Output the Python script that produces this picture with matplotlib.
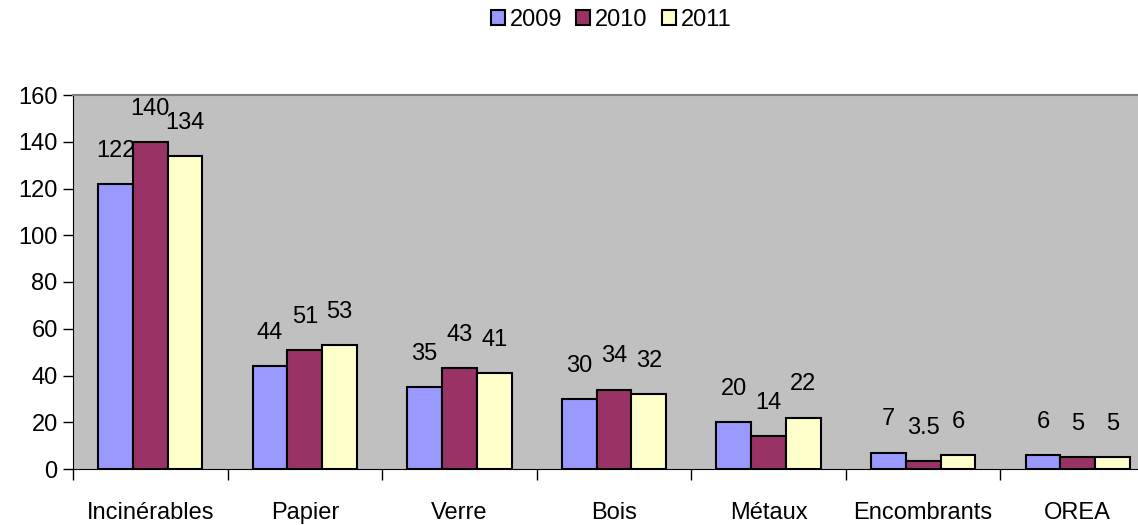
import numpy as np
import matplotlib.pyplot as plt
from matplotlib import font_manager

names = {f.name for f in font_manager.fontManager.ttflist}
if "Liberation Sans Narrow" in names:
    plt.rcParams['font.family'] = ['Liberation Sans Narrow', 'DejaVu Sans']
    fs = 19
else:
    plt.rcParams['font.family'] = ['Liberation Sans', 'DejaVu Sans']
    fs = 17

categories = ["Incinérables", "Papier", "Verre", "Bois", "Métaux", "Encombrants", "OREA"]
years = ["2009", "2010", "2011"]
v2009 = [122, 44, 35, 30, 20, 7, 6]
v2010 = [140, 51, 43, 34, 14, 3.5, 5]
v2011 = [134, 53, 41, 32, 22, 6, 5]
colors = ["#9999FF", "#993366", "#FFFFCC"]

fig = plt.figure(figsize=(11.38, 5.25), dpi=100)
ax = fig.add_axes([73 / 1138, 56 / 525, (1155 - 73) / 1138, (469 - 95) / 525])
ax.set_facecolor("#C0C0C0")

x = np.arange(len(categories))
w = 0.225
series = [v2009, v2010, v2011]
for k, vals in enumerate(series):
    pos = x + (k - 1) * w
    ax.bar(pos, vals, w, color=colors[k], edgecolor="black", linewidth=1.5, label=years[k], zorder=3)
    for p, v in zip(pos, vals):
        txt = str(int(v)) if float(v).is_integer() else str(v)
        ax.annotate(txt, (p, v), xytext=(0, 16), textcoords="offset points",
                    ha="center", va="bottom", fontsize=fs)

ax.set_xlim(-0.5, len(categories) - 0.5)
ax.set_ylim(0, 160)
ax.set_yticks(range(0, 161, 20))
ax.set_xticks(x)
ax.set_xticklabels(categories)
ax.set_xticks(np.arange(-0.5, len(categories), 1), minor=True)
ax.tick_params(axis="x", which="major", length=0, pad=24, labelsize=fs)
ax.tick_params(axis="x", which="minor", length=8, width=1, direction="out")
ax.tick_params(axis="y", length=7, width=1, direction="out", labelsize=fs, pad=4)

ax.spines["top"].set_color("#808080")
ax.spines["top"].set_linewidth(1.5)
ax.spines["right"].set_visible(False)
ax.spines["left"].set_color("black")
ax.spines["bottom"].set_color("black")

fig.legend(loc="center", bbox_to_anchor=(611 / 1138, 1 - 20 / 525), ncol=3, frameon=False,
           fontsize=fs, handlelength=0.6, handleheight=0.6, handletextpad=0.2, columnspacing=0.6)

plt.savefig("out.png", dpi=100)
